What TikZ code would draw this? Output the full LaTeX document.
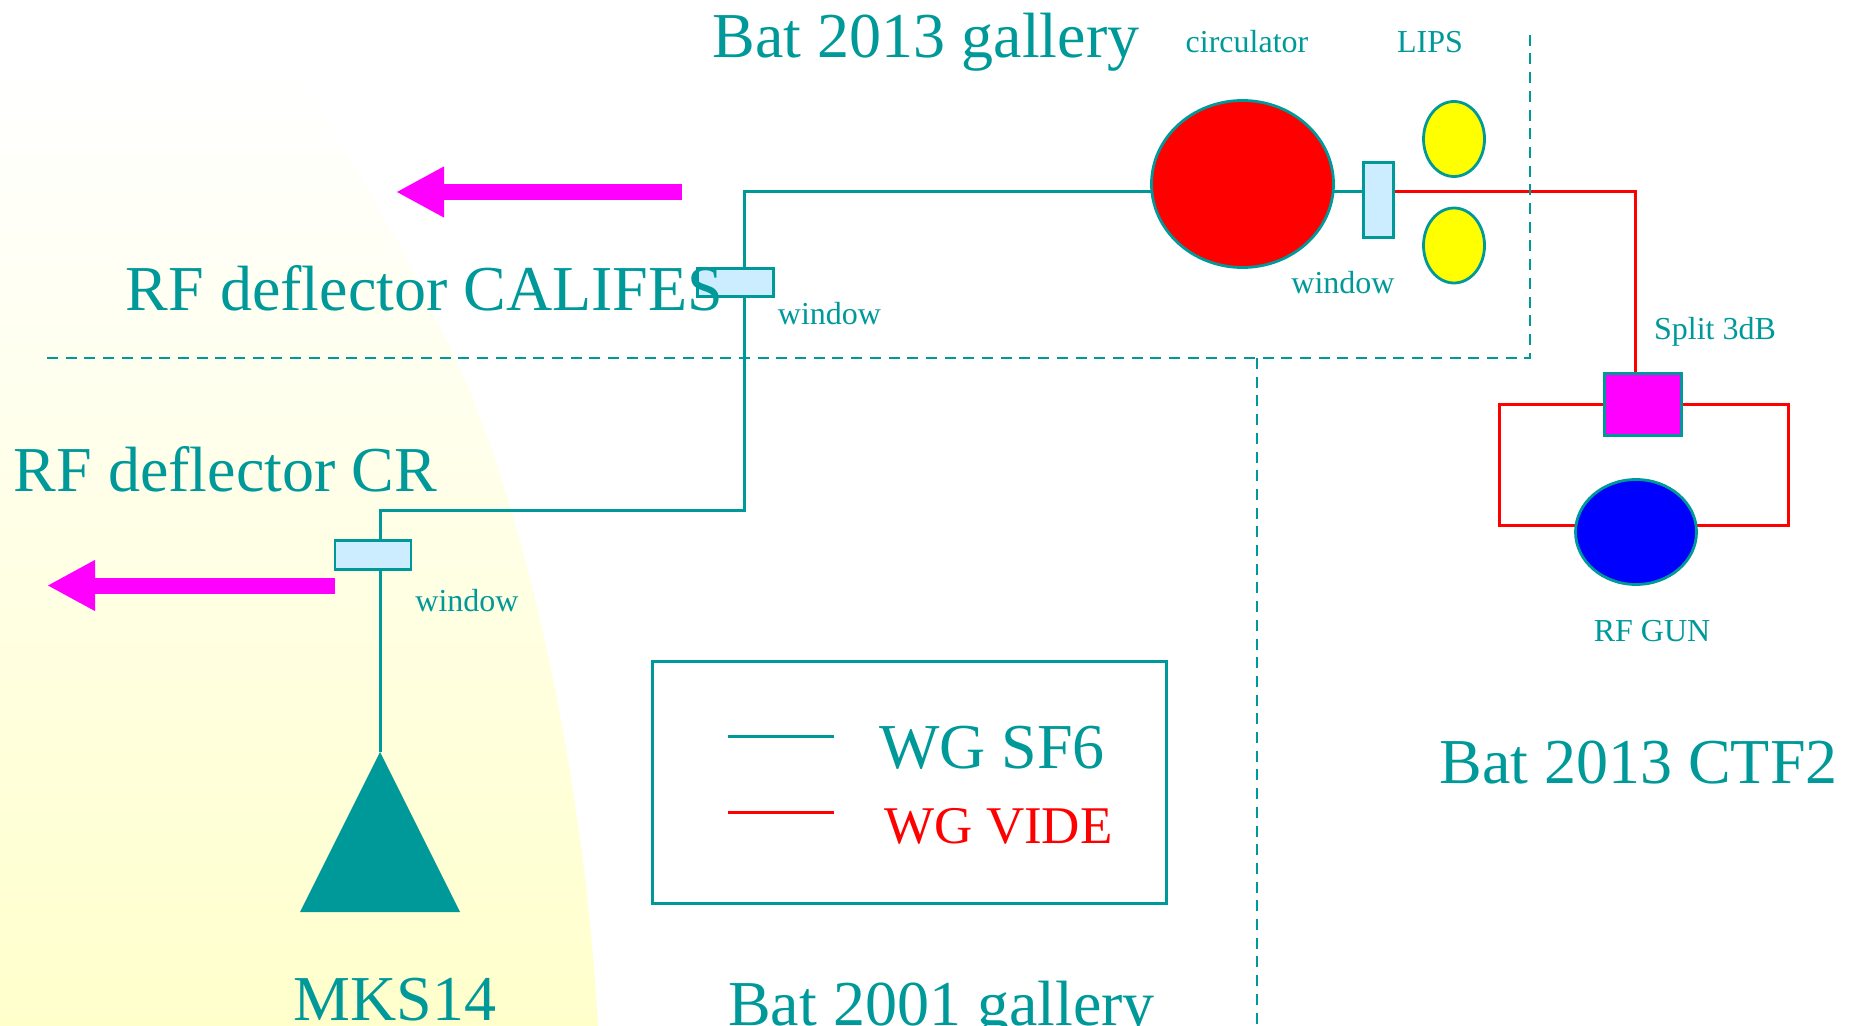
\documentclass[tikz,border=0pt]{standalone}
\usepackage{fontspec}
\setmainfont{Liberation Serif}
\usepackage{tikz}
\usetikzlibrary{arrows.meta,positioning,shapes.geometric,backgrounds}
\definecolor{accentteal}{HTML}{009999}
\definecolor{windowblue}{HTML}{CCECFF}
\definecolor{paleyellow}{HTML}{FFFFCC}
\definecolor{beammagenta}{HTML}{FF00FF}
\definecolor{lipsyellow}{HTML}{FFFF00}
\definecolor{wgred}{HTML}{FF0000}
\definecolor{gunblue}{HTML}{0000FF}

\begin{document}
\begin{tikzpicture}[
  x=0.5pt, y=-0.5pt,
  bigtext/.style={inner sep=0pt, anchor=base, text=accentteal, font=\fontsize{32}{36}\selectfont},
  smalltext/.style={inner sep=0pt, text height=11pt, text depth=0pt, text=accentteal, font=\fontsize{16}{18}\selectfont},
  windowbox/.style={rectangle, draw=accentteal, line width=1.4pt, fill=windowblue, inner sep=0pt, outer sep=0pt, minimum width=38pt, minimum height=14.2pt},
  oval/.style={ellipse, draw=accentteal, line width=1.4pt, inner sep=0pt, outer sep=0pt},
  wgsf/.style={accentteal, line width=1.5pt},
  wgvide/.style={wgred, line width=1.5pt},
  wall/.style={accentteal, line width=1.35pt, dash pattern=on 5.5pt off 3.85pt},
  beam/.style={beammagenta, line width=8pt, -{Triangle[length=24pt, width=23.7pt]}}
]
\useasboundingbox (0,0) rectangle (1851,1026);

% equipment
\node[oval, fill=wgred, minimum width=91pt, minimum height=83.5pt] (circ) at (1242.5,184) {};
\node[oval, fill=lipsyellow, minimum width=30.5pt, minimum height=37.5pt] (lipsA) at (1454,139) {};
\node[oval, fill=lipsyellow, minimum width=30.5pt, minimum height=37.5pt] (lipsB) at (1454,245.5) {};
\node[oval, fill=gunblue, minimum width=60.5pt, minimum height=52.5pt] (gun) at (1636,532) {};
\node[windowbox] (winA) at (735.5,282.5) {};
\node[windowbox, minimum width=15pt, minimum height=37.5pt] (winB) at (1378.5,200) {};
\node[windowbox] (winC) at (373,555) {};
\node[rectangle, draw=accentteal, line width=1.4pt, fill=beammagenta, inner sep=0pt, outer sep=0pt, minimum width=38.5pt, minimum height=31pt] (split) at (1643,404.5) {};
\node[rectangle, draw=accentteal, line width=1.4pt, inner sep=0pt, minimum width=257pt, minimum height=121pt] (legend) at (909.5,782.5) {};

\coordinate (mks) at (380,752);
\fill[accentteal] (mks) -- (300,912) -- (460,912) -- cycle;

\coordinate (bendtop) at (744,192);
\coordinate (bendlow) at (744,510);
\coordinate (bendred) at (1635,192);
\coordinate (loopleft) at (1499,525);
\coordinate (loopright) at (1788,525);
\coordinate (beamA) at (682,192);
\coordinate (beamAend) at (396,192);
\coordinate (beamB) at (335,585.5);
\coordinate (beamBend) at (47,585.5);
\coordinate (wallL) at (47,358);
\coordinate (wallM) at (1257,358);
\coordinate (wallR) at (1530,358);
\coordinate (wallT) at (1530,32);
\coordinate (wallB) at (1257,1026);
\coordinate (keyA) at (728,736);
\coordinate (keyB) at (834,736);
\coordinate (keyC) at (728,812);
\coordinate (keyD) at (834,812);

\begin{scope}[on background layer]
\shade[top color=white, middle color=paleyellow!45!white, bottom color=paleyellow, draw=none]
  (0,70) -- (285,70) .. controls (345,140) and (405,250) .. (440,327)
  .. controls (520,480) and (583,760) .. (598,1026) -- (0,1026) -- cycle;
\draw[wgsf] (bendtop -| winB.center) -- (bendtop) -- (bendlow) -- (bendlow -| mks) -- (mks);
\draw[wgvide] (bendtop -| winB.east) -- (bendred) -- (bendred |- split.north);
\draw[wgvide] (split.west) -| (loopleft) -- (loopleft -| gun.center);
\draw[wgvide] (split.east) -| (loopright) -- (loopright -| gun.center);
\end{scope}

\draw[wall] (wallL) -- (wallR) -- (wallT);
\draw[wall] (wallM) -- (wallB);
\draw[beam] (beamA) -- (beamAend);
\draw[beam] (beamB) -- (beamBend);
\draw[wgsf] (keyA) -- (keyB);
\draw[wgvide] (keyC) -- (keyD);

% labels
\node[smalltext, above=24pt of circ, xshift=2.25pt] (circlabel) {circulator};
\node[smalltext, above=24.5pt of lipsA, xshift=-12pt] (lipslabel) {LIPS};
\node[smalltext, below right=2.8pt and 2pt of winA] (winAlabel) {window};
\node[smalltext, below=16.8pt of winB, xshift=-17.75pt] (winBlabel) {window};
\node[smalltext, below right=10pt and 2pt of winC] (winClabel) {window};
\node[smalltext, above=17pt of split, xshift=36pt] (splitlabel) {Split 3dB};
\node[smalltext, below=17.5pt of gun, xshift=8pt] (gunlabel) {RF GUN};

\node[bigtext] (bat2013) at (926,58) {Bat 2013 gallery};
\node[bigtext] (califes) at (424.5,311) {RF deflector CALIFES};
\node[bigtext] (cr) at (225.5,491) {RF deflector CR};
\node[bigtext] (ctf) at (1638.5,783) {Bat 2013 CTF2};
\node[bigtext] (klystron) at (395,1020) {MKS14};
\node[bigtext] (bat2001) at (941.5,1025) {Bat 2001 gallery};
\node[bigtext] (keysf) at (992,768) {WG SF6};
\node[bigtext, text=wgred, font=\fontsize{26.5}{30}\selectfont] (keyvide) at (998.5,843) {WG VIDE};
\end{tikzpicture}
\end{document}
